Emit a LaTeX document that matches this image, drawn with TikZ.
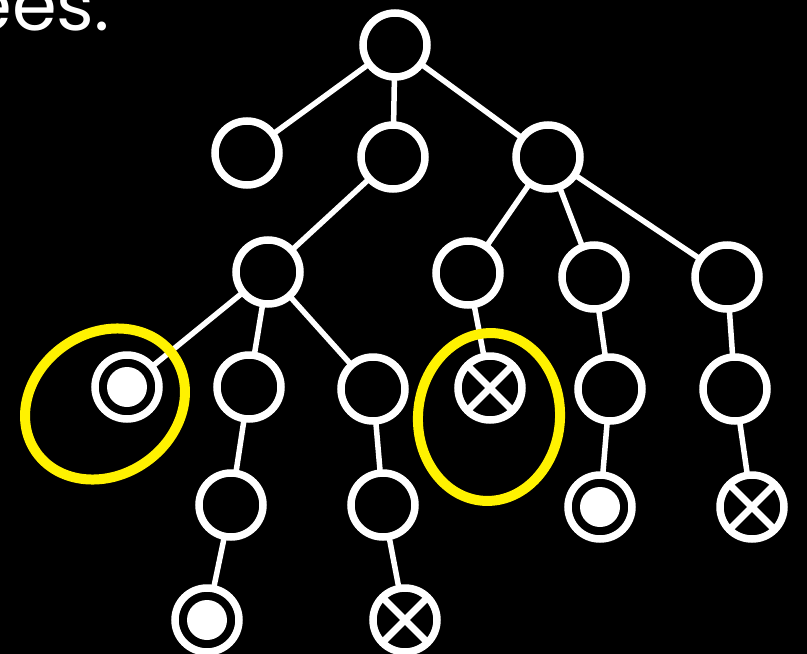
\documentclass[tikz,border=0pt]{standalone}
\usepackage{fontspec}
\newfontfamily\handfont{Poppins}
\begin{document}
\begin{tikzpicture}[x=1pt,y=-1pt,
  tnode/.style={circle,draw=white,line width=7.5pt,minimum size=64pt,inner sep=0pt,outer sep=0pt},
  dotnode/.style={tnode,path picture={\fill[white] (path picture bounding box.center) circle (20pt);}},
  xnode/.style={tnode},
  edge/.style={draw=white,line width=5.5pt},
  xmark/.style={draw=white,line width=7pt},
  hl/.style={draw=yellow,line width=10pt}]
\fill[black] (0,0) rectangle (807,654);
\useasboundingbox (0,0) rectangle (807,654);
\clip (0,0) rectangle (807,654);
\node[text=white,font=\handfont\fontsize{72}{72}\selectfont,anchor=base east,inner sep=0pt] (title) at (110,30) {ees:};
% nodes
\node[tnode] (r) at (395,45) {};
\node[tnode] (a1) at (247,153) {};
\node[tnode] (a2) at (393,157) {};
\node[tnode] (a3) at (548,157) {};
\node[tnode] (b1) at (268,272) {};
\node[tnode] (b2) at (468,273) {};
\node[tnode] (b3) at (594,277) {};
\node[tnode] (b4) at (727,277) {};
\node[dotnode] (c1) at (127,387) {};
\node[tnode] (c2) at (249,387) {};
\node[tnode] (c3) at (373,389) {};
\node[xnode] (c4) at (490,388) {};
\node[tnode] (c5) at (610,389) {};
\node[tnode] (c6) at (735,389) {};
\node[tnode] (d1) at (231,505) {};
\node[tnode] (d2) at (383,505) {};
\node[dotnode] (d3) at (600,507) {};
\node[xnode] (d4) at (752,507) {};
\node[dotnode] (e1) at (207,620) {};
\node[xnode] (e2) at (405,620) {};
% x marks
\foreach \n in {c4,d4,e2}{
  \draw[xmark] (\n.45) -- (\n.225);
  \draw[xmark] (\n.135) -- (\n.315);
}
% edges
\draw[edge] (r) -- (a1);
\draw[edge] (r) -- (a2);
\draw[edge] (r) -- (a3);
\draw[edge] (a2) -- (b1);
\draw[edge] (a3) -- (b2);
\draw[edge] (a3) -- (b3);
\draw[edge] (a3) -- (b4);
\draw[edge] (b1) -- (c1);
\draw[edge] (b1) -- (c2);
\draw[edge] (b1) -- (c3);
\draw[edge] (b2) -- (c4);
\draw[edge] (b3) -- (c5);
\draw[edge] (b4) -- (c6);
\draw[edge] (c2) -- (d1);
\draw[edge] (c3) -- (d2);
\draw[edge] (c5) -- (d3);
\draw[edge] (c6) -- (d4);
\draw[edge] (d1) -- (e1);
\draw[edge] (d2) -- (e2);
% highlights
\draw[hl] (105,404) ellipse[x radius=84pt,y radius=71pt,rotate=35];
\draw[hl] (489,417) ellipse[x radius=71pt,y radius=84pt,rotate=-4];
\end{tikzpicture}
\end{document}
